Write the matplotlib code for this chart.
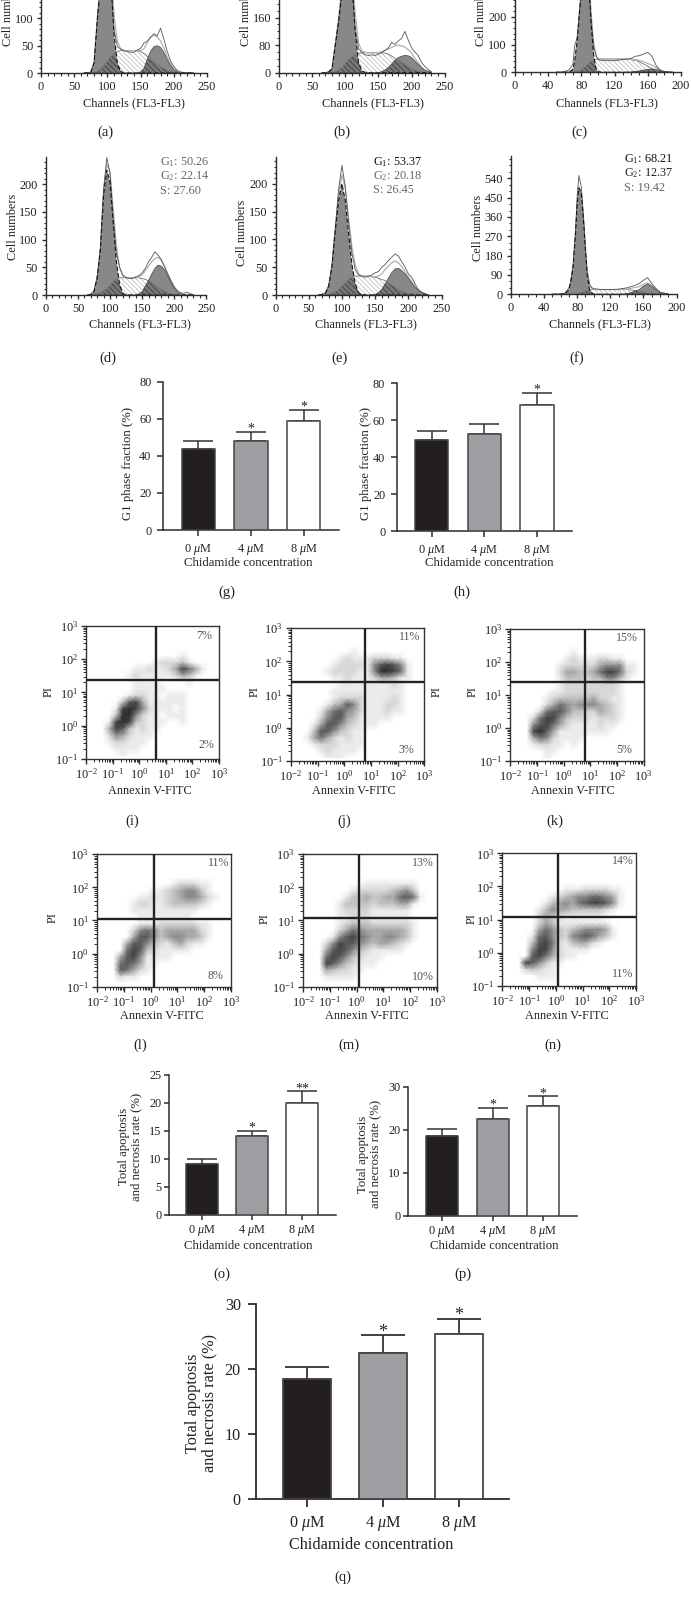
import numpy as np
import matplotlib
matplotlib.use("Agg")
import matplotlib.pyplot as plt
from matplotlib.colors import LinearSegmentedColormap
from matplotlib.ticker import MultipleLocator, LogLocator, NullFormatter, FixedLocator

W, H = 691, 1601
plt.rcParams.update({
    'font.family': ['Liberation Serif', 'DejaVu Serif'],
    'mathtext.fontset': 'custom',
    'mathtext.rm': 'Liberation Serif',
    'mathtext.it': 'Liberation Serif:italic',
    'mathtext.bf': 'Liberation Serif:bold',
    'hatch.linewidth': 0.5,
    'axes.linewidth': 1.0,
})

# ---------- cell-cycle histograms ----------
CH250 = [65,70,75,80,85,90,95,100,105,110,115,120,125,130,135,140,145,150,155,160,165,170,175,180,185,190,195,200,205,210,215,220,230]
CH200 = [50,55,60,65,70,72,75,78,80,82,85,88,90,92,95,98,100,105,110,120,130,140,145,150,155,160,165,170,175,180,190]

a_G1 = [0,0,1,18,100,170,215,225,175,70,18,3,0,0,0,0,0,0,0,0,0,0,0,0,0,0,0,0,0,0,0,0,0]
a_S  = [0,0,0,1,3,8,14,22,30,36,40,41,41,41,41,41,41,39,36,31,26,21,16,12,8,5,3,2,1,0,0,0,0]
a_G2 = [0,0,0,0,0,0,0,0,0,0,0,0,0,0,0,0,0,2,8,25,40,48,50,47,38,25,14,6,2,0,0,0,0]
a_T  = [0,0,2,20,100,170,215,225,178,80,48,44,41,39,38,38,42,45,55,58,65,72,68,82,62,40,22,12,5,2,1,0,0]

b_G1 = [0,0,2,10,80,150,235,320,330,260,120,30,5,1,0,0,0,0,0,0,0,0,0,0,0,0,0,0,0,0,0,0,0]
b_S  = [0,0,0,1,3,8,16,28,38,46,52,56,58,58,58,58,58,58,58,57,54,48,42,36,30,24,18,13,8,5,3,1,0]
b_G2 = [0,0,0,0,0,0,0,0,0,0,0,0,0,0,0,0,0,0,3,8,15,25,36,44,48,50,49,44,34,24,14,7,1]
b_T  = [0,0,3,12,82,150,238,322,335,265,130,70,58,52,50,52,50,54,58,65,72,88,82,92,100,120,95,72,60,50,30,18,2]

c_G1 = [0,0,0,0,10,40,110,220,290,340,350,310,270,170,60,10,2,0,0,0,0,0,0,0,0,0,0,0,0,0,0]
c_S  = [0,0,0,0,0,0,2,5,10,14,22,30,36,40,44,47,48,48,48,48,48,46,43,38,30,22,14,6,2,0,0]
c_G2 = [0,0,0,0,0,0,0,0,0,0,0,0,0,0,0,0,0,0,0,0,0,1,3,5,8,10,12,11,6,2,0]
c_T  = [0,0,3,8,30,95,125,225,290,340,350,315,275,185,90,60,47,42,42,42,46,50,58,60,66,72,58,25,8,3,0]

d_G1 = [0,1,6,30,80,180,225,205,130,60,18,3,0,0,0,0,0,0,0,0,0,0,0,0,0,0,0,0,0,0,0,0,0]
d_S  = [0,0,1,2,4,7,11,17,24,29,31,31,31,31,31,31,31,30,28,26,22,18,14,10,7,4,2,1,0,0,0,0,0]
d_G2 = [0,0,0,0,0,0,0,0,0,0,0,0,0,0,0,0,2,6,16,26,38,48,54,52,45,34,22,12,5,2,0,0,0]
d_T  = [0,1,7,32,85,190,248,220,140,75,50,36,32,30,30,33,35,40,48,60,68,78,72,64,50,38,26,15,8,4,3,5,0]

e_G1 = [0,1,3,15,50,115,170,200,170,110,55,20,4,1,0,0,0,0,0,0,0,0,0,0,0,0,0,0,0,0,0,0,0]
e_S  = [0,0,0,1,3,6,10,16,22,28,32,34,34,34,34,34,33,32,30,28,26,22,18,14,10,7,4,3,2,1,0,0,0]
e_G2 = [0,0,0,0,0,0,0,0,0,0,0,0,0,0,0,0,0,1,4,10,20,30,40,47,48,44,38,30,22,14,8,4,0]
e_T  = [0,1,4,17,55,120,190,233,195,130,75,45,36,33,32,34,36,40,42,50,55,62,68,74,70,60,50,38,32,20,10,5,0]

f_G1 = [0,0,0,2,20,50,120,280,420,495,470,320,200,90,20,5,1,0,0,0,0,0,0,0,0,0,0,0,0,0,0]
f_S  = [0,0,0,0,0,0,1,2,4,5,8,12,15,17,20,22,22,22,22,22,22,22,20,17,14,9,5,2,1,0,0]
f_G2 = [0,0,0,0,0,0,0,0,0,0,0,0,0,0,0,0,0,0,0,0,0,2,8,15,22,38,48,38,22,8,0]
f_T  = [0,0,1,5,30,60,140,300,460,553,500,340,215,110,45,30,26,24,22,22,24,30,36,42,50,65,78,50,28,10,1]
f_yticks = [0, 90, 180, 270, 360, 450, 540]

# ---------- bar charts ----------
bar_labels = ['0 $\\mu$M', '4 $\\mu$M', '8 $\\mu$M']
g_means = [43.5, 48, 59];   g_tops = [48, 53, 65];     g_stars = ['', '*', '*']
h_means = [49.5, 52.5, 68]; h_tops = [54, 58, 75];     h_stars = ['', '', '*']
o_means = [9, 14, 20];      o_tops = [10, 15, 22];     o_stars = ['', '*', '**']
p_means = [18.5, 22.5, 25.5]; p_tops = [20.3, 25.2, 27.8]; p_stars = ['', '*', '*']
q_means = [18.5, 22.5, 25.5]; q_tops = [20.3, 25.2, 27.8]; q_stars = ['', '*', '*']
bar_colors = ['#231f20', '#9d9ea2', '#ffffff']

# ---------- flow-cytometry density cells (0-9), rows from PI 10^3 down, columns from Annexin 10^-2 up ----------
i_grid = ["00000000000000000000","00000000000000000000","00000000000000000000","00000000000000000000",
"00000000000000100000","00000000001222310000","00000001121124864100","00000012111112431000",
"00000001111000010000","00000001111100000000","00000012211011100000","00000378411111100000",
"00001898521110100000","00003995211011100000","00018983211100100000","00048731211000000000",
"00025421110000000000","00012211100000000000","00001111000000000000","00000100000000000000"]
j_grid = ["00000000000000000000","00000000000000000000","00000000000000000000","00000000010000000000",
"00000001211122211000","00000012222157875100","00000122221159986100","00000011211124431100",
"00000001111111121000","00000011111111111000","00000012222111121000","00000134752111221000",
"00001467542111211000","00002577431111100000","00014775321110000000","00037753211000000000",
"00146421211000000000","00012221111000000000","00001211110000000000","00000111000000000000"]
k_grid = ["00000000000000000000","00000000000000000000","00000000000000000000","00000000010000000000",
"00000000121112211000","00000001222224555110","00000002443346886210","00000001333233553100",
"00000001222222221000","00000011222222221000","00000123333342211000","00000246545554321000",
"00002677533224321000","00026885322212221000","00057864211112110000","00089741111111100000",
"00046521111000000000","00012211010000000000","00000110000000000000","00000100000000000000"]
l_grid = ["00000000000000000000","00000000000000000000","00000000000000000000","00000000000000000000",
"00000000000122211000","00000000112345531000","00000011212345542100","00000122112333321000",
"00000111111111100000","00000011111111000000","00000011122222211000","00000256534444421000",
"00000477534554431000","00004775321342110000","00006873211111000000","00047851111000000000",
"00067641100000000000","00076421000000000000","00021100000000000000","00000000000000000000"]
m_grid = ["00000000000000000000","00000000000000000000","00000000000000000000","00000000000000000000",
"00000000011111111000","00000001222223453000","00000013343344676100","00000133332333441000",
"00000122221111110000","00000112221111110000","00000123332222221000","00000246544444431000",
"00001578654455431000","00025877543443210000","00047875321111100000","00068753211100000000",
"00087532111000000000","00043221100000000000","00011111000000000000","00000000000000000000"]
n_grid = ["00000000000000000000","00000000000000000000","00000000000000000000","00000000000000000000",
"00000000000000000000","00000000011122221100","00000001234556654100","00000013454678875100",
"00000135443333321000","00000243211111100000","00000243111111110000","00000465323455541000",
"00001675325676431000","00003786213442100000","00005885211110000000","00007864211000000000",
"00087531100000000000","00023211000000000000","00000111000000000000","00000000000000000000"]
q_pcts = {'i': ('7%', '2%'), 'j': ('11%', '3%'), 'k': ('15%', '5%'),
          'l': ('11%', '8%'), 'm': ('13%', '10%'), 'n': ('14%', '11%')}

fig = plt.figure(figsize=(W/100, H/100), dpi=100, facecolor='white')
INK = '#2c2c2c'

def axpx(l, r, t, b):
    return fig.add_axes([l/W, 1-b/H, (r-l)/W, (b-t)/H])

def txt(x, y, s, size=8.8, **kw):
    kw.setdefault('ha', 'center'); kw.setdefault('va', 'center'); kw.setdefault('color', '#222222')
    fig.text(x/W, 1-y/H, s, fontsize=size, **kw)

def hist(box, xmax, ymax, xmaj, ymaj, ymin, ch, G1, S, G2, T, yticks=None):
    ax = axpx(*box)
    ch = np.array(ch, float)
    G1, S, G2, T = [np.array(v, float) for v in (G1, S, G2, T)]
    ax.set_xlim(0, xmax); ax.set_ylim(0, ymax)
    ax.fill_between(ch, 0, S, facecolor='white', edgecolor='#b4b4b4', hatch='\\\\\\\\\\\\\\', linewidth=0)
    ax.fill_between(ch, 0, G1, facecolor='#888888', linewidth=0)
    ax.fill_between(ch, 0, G2, facecolor='#888888', linewidth=0)
    ax.fill_between(ch, 0, np.minimum(S, np.maximum(G1, G2)), facecolor='#777777',
                    edgecolor='#333333', hatch='\\\\\\\\\\\\', linewidth=0)
    ax.plot(ch, S, color='#777777', lw=0.6)
    ax.plot(ch, G1 + S + G2, color='#b0b0b0', lw=0.9)
    ax.plot(ch, T, color='#555555', lw=0.6)
    ax.plot(ch, G1, color='#111111', lw=0.8, ls=(0, (4, 2)))
    ax.plot(ch, G2, color='#444444', lw=0.5)
    for s in ('top', 'right'):
        ax.spines[s].set_visible(False)
    for s in ('left', 'bottom'):
        ax.spines[s].set_color(INK)
    ax.xaxis.set_major_locator(MultipleLocator(xmaj)); ax.xaxis.set_minor_locator(MultipleLocator(10))
    if yticks is None:
        ax.yaxis.set_major_locator(MultipleLocator(ymaj))
    else:
        ax.yaxis.set_major_locator(FixedLocator(yticks))
    ax.yaxis.set_minor_locator(MultipleLocator(ymin))
    ax.tick_params(which='major', length=3.2, width=1, color=INK, labelsize=8.8, labelcolor='#222222', pad=2.5)
    ax.tick_params(which='minor', length=1.8, width=0.8, color=INK)
    ax.patch.set_alpha(0)
    return ax

hist((41, 207, 0, 73), 250, 133.7, 50, 50, 10, CH250, a_G1, a_S, a_G2, a_T)
hist((279, 444.7, 0, 72.7), 250, 211, 50, 80, 20, CH250, b_G1, b_S, b_G2, b_T)
hist((514.8, 681, 0, 72.3), 200, 261, 40, 100, 20, CH200, c_G1, c_S, c_G2, c_T)
hist((45.8, 206.3, 157, 295), 250, 249, 50, 50, 10, CH250, d_G1, d_S, d_G2, d_T)
hist((275.5, 441.6, 157, 295), 250, 248, 50, 50, 10, CH250, e_G1, e_S, e_G2, e_T)
hist((511, 676.5, 156, 294.3), 200, 644, 40, 90, 30, CH200, f_G1, f_S, f_G2, f_T, yticks=f_yticks)

for x, y in [(134, 103.5), (373.3, 103.5), (606.9, 103.5), (140, 324.5), (365.8, 324.5), (600.3, 324.5)]:
    txt(x, y, 'Channels (FL3-FL3)')
for x, yb in [(8, 46), (245.6, 46), (481, 46), (13, 260), (242, 265.7), (478, 260.7)]:
    txt(x, yb, 'Cell numbers', rotation=90, va='bottom')

anno = [(159.5, (162.3, 176, 190.7), ('G$_1$: 50.26', 'G$_2$: 22.14', 'S: 27.60'), ('#666666', '#666666', '#666666')),
        (373.3, (161.7, 175.7, 190), ('G$_1$: 53.37', 'G$_2$: 20.18', 'S: 26.45'), ('#111111', '#666666', '#666666')),
        (624.5, (159, 172.7, 188), ('G$_1$: 68.21', 'G$_2$: 12.37', 'S: 19.42'), ('#111111', '#222222', '#666666'))]
for x, ys, ss, cs in anno:
    for y, s, c in zip(ys, ss, cs):
        txt(x, y, s, ha='left', color=c)

def bars(l, r, t, b, ticks, bar_px, ymax, ystep, means, tops, stars, ylabel, xlab_xy, ylab_xy, fs, labfs, lw, star_fs, tlen=4.4, tpad=3.9):
    ax = axpx(l, r, t, b)
    per = (ticks[2] - ticks[0]) / 2
    ax.set_xlim((l - ticks[0]) / per, (r - ticks[0]) / per)
    ax.set_ylim(0, ymax)
    xs = np.arange(3)
    ax.bar(xs, means, width=bar_px/per, color=bar_colors, edgecolor='#444444', linewidth=lw, zorder=3)
    ax.errorbar(xs, means, yerr=[np.zeros(3), np.array(tops) - np.array(means)], fmt='none',
                ecolor='#333333', elinewidth=lw, capsize=bar_px*0.33, capthick=lw, zorder=2)
    for x, top, st in zip(xs, tops, stars):
        if st:
            ax.annotate(st, (x, top), xytext=(0, -2.5 * star_fs/9), textcoords='offset points',
                        ha='center', va='bottom', fontsize=star_fs, color='#222222')
    for s in ('top', 'right'):
        ax.spines[s].set_visible(False)
    for s in ('left', 'bottom'):
        ax.spines[s].set_color(INK); ax.spines[s].set_linewidth(lw)
    ax.set_xticks(xs, bar_labels)
    ax.yaxis.set_major_locator(MultipleLocator(ystep))
    ax.tick_params(length=tlen, width=lw, color=INK, labelsize=fs, labelcolor='#222222', pad=tpad)
    txt(xlab_xy[0], xlab_xy[1], 'Chidamide concentration', size=labfs)
    txt(ylab_xy[0], ylab_xy[1], ylabel, size=labfs, rotation=90, linespacing=1.05)
    return ax

bars(163, 338.5, 381.7, 530, (198.3, 251, 303.7), 33.5, 80, 20, g_means, g_tops, g_stars,
     'G1 phase fraction (%)', (248.5, 563), (128, 464), 8.8, 9.2, 1.1, 10)
bars(396.7, 572, 383.3, 531.3, (431.5, 484.4, 537.2), 33.5, 80, 20, h_means, h_tops, h_stars,
     'G1 phase fraction (%)', (489.5, 563), (366, 463), 8.8, 9.2, 1.1, 10)
bars(169, 336, 1074.6, 1214.8, (202, 252.3, 302.3), 32, 25, 5, o_means, o_tops, o_stars,
     'Total apoptosis\nand necrosis rate (%)', (248.5, 1246), (130, 1146.6), 8.8, 9.2, 1.1, 10, tlen=3.6, tpad=2.0)
bars(408.3, 577.3, 1086.9, 1215.8, (442, 492.7, 543.3), 32, 30, 10, p_means, p_tops, p_stars,
     'Total apoptosis\nand necrosis rate (%)', (494.5, 1246), (369, 1154), 8.8, 9.2, 1.1, 10, tlen=3.6, tpad=2.0)
bars(256, 509.3, 1304.4, 1498.7, (306.7, 382.7, 459), 48, 30, 10, q_means, q_tops, q_stars,
     'Total apoptosis\nand necrosis rate (%)', (371, 1544.7), (201, 1403), 11.6, 11.7, 1.3, 13, tlen=5.8, tpad=5.2)

cmap = LinearSegmentedColormap.from_list('flow', ['#ffffff', '#c2c2c2', '#727272', '#2e2e2e'], N=256)

def flow(box, grid, hline, vline, pcts, pct_pos):
    l, r, t, b = box
    ax = axpx(l, r, t, b)
    ax.set_xscale('log'); ax.set_yscale('log')
    ax.set_xlim(1e-2, 1e3); ax.set_ylim(1e-1, 1e3)
    z = np.array([[int(c) for c in row.ljust(20, '0')[:20]] for row in grid], float)
    nr, nc = z.shape
    xc = 10 ** (-2 + (np.arange(nc) + 0.5) * 5 / nc)
    yc = 10 ** (3 - (np.arange(nr) + 0.5) * 4 / nr)
    ax.pcolormesh(xc, yc, z, shading='gouraud', cmap=cmap, vmin=0, vmax=9, zorder=1)
    hv = 10 ** (3 - (hline - t) / (b - t) * 4)
    vv = 10 ** (-2 + (vline - l) / (r - l) * 5)
    ax.axhline(hv, color='#222222', lw=1.7, zorder=3)
    ax.axvline(vv, color='#222222', lw=1.7, zorder=3)
    for s in ax.spines.values():
        s.set_color('#333333'); s.set_linewidth(1.0)
    for axis in (ax.xaxis, ax.yaxis):
        axis.set_major_locator(LogLocator(base=10, numticks=10))
        axis.set_minor_locator(LogLocator(base=10, subs=np.arange(2, 10), numticks=10))
        axis.set_minor_formatter(NullFormatter())
    ax.tick_params(which='major', length=3.5, width=1, color=INK, labelsize=8.8, labelcolor='#222222', pad=2.5)
    ax.tick_params(which='minor', length=2, width=0.7, color=INK)
    for (x, y), s in zip(pct_pos, pcts):
        txt(x, y, s, size=8.6, color='#555555')
    return ax

flow((86.4, 219, 626, 758.7), i_grid, 680.3, 156, q_pcts['i'], [(204, 636), (206, 745)])
flow((290.9, 424.4, 628.3, 761), j_grid, 682.3, 365, q_pcts['j'], [(410, 636.7), (406.7, 750)])
flow((510.4, 643.5, 629.3, 761), k_grid, 682, 585.3, q_pcts['k'], [(627.3, 637.7), (624, 750)])
flow((97, 231, 854.3, 986.7), l_grid, 919.3, 153.8, q_pcts['l'], [(218.6, 862.7), (215, 976)])
flow((303, 436.8, 854.3, 986.7), m_grid, 918.3, 358.8, q_pcts['m'], [(423, 863), (423, 976.7)])
flow((502.4, 636, 853.3, 986), n_grid, 917, 558.4, q_pcts['n'], [(623, 861), (623, 974)])

for x, y in [(150, 791), (354, 791), (573, 791), (161.7, 1016), (366.7, 1016), (567.2, 1016)]:
    txt(x, y, 'Annexin V-FITC')
for x, y in [(48.5, 691.7), (254.3, 691.7), (437, 691.7), (472.5, 691.7), (53, 918), (264.4, 919), (471.6, 919)]:
    txt(x, y, 'PI', rotation=90)

panel_labels = [('(a)', 105.8, 132.5), ('(b)', 342, 132.5), ('(c)', 579, 132.5),
                ('(d)', 108, 358), ('(e)', 339, 358), ('(f)', 576.5, 358),
                ('(g)', 226.5, 592), ('(h)', 462, 592),
                ('(i)', 132, 821.5), ('(j)', 343.8, 821.5), ('(k)', 555, 821.5),
                ('(l)', 140, 1045), ('(m)', 349, 1045), ('(n)', 553, 1045),
                ('(o)', 222, 1274), ('(p)', 462.7, 1274), ('(q)', 343, 1577)]
for s, x, y in panel_labels:
    txt(x, y, s, size=10.5)

fig.savefig('out.png', dpi=100, facecolor='white')
